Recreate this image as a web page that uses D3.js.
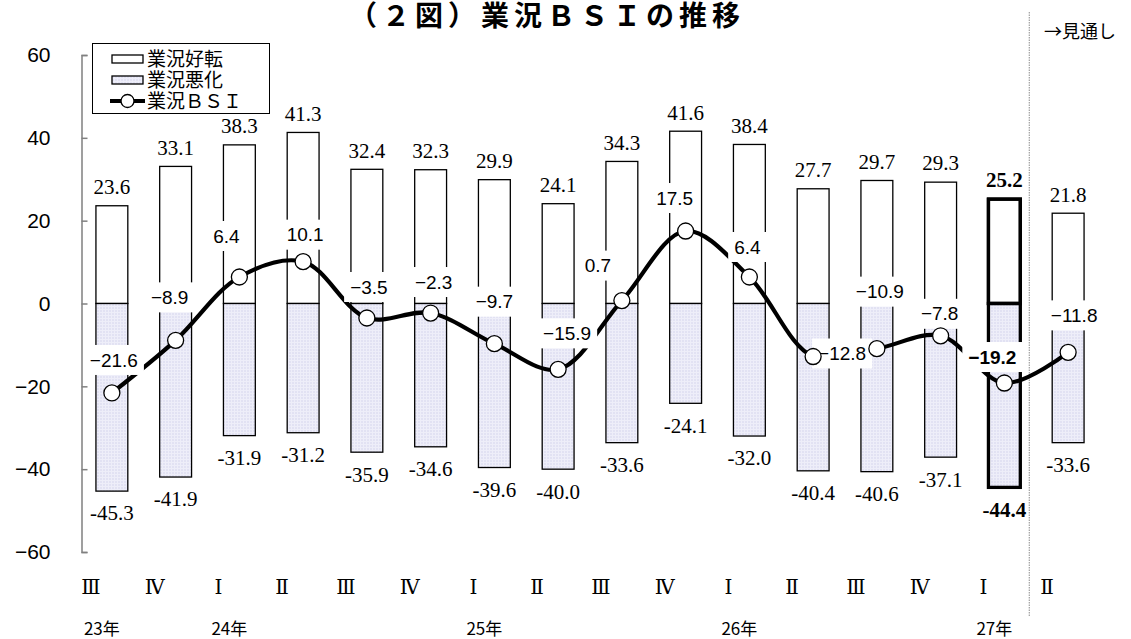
<!DOCTYPE html>
<html>
<head>
<meta charset="utf-8">
<script src="https://cdn.jsdelivr.net/npm/d3@7"></script>
<style>
  body { margin: 0; background: #fff; }
  svg { display: block; }
</style>
</head>
<body>
<svg id="chart" width="1131" height="639"></svg>
<script>
// ---- data ----
const quarters = ["Ⅲ", "Ⅳ", "Ⅰ", "Ⅱ", "Ⅲ", "Ⅳ", "Ⅰ", "Ⅱ", "Ⅲ", "Ⅳ", "Ⅰ", "Ⅱ", "Ⅲ", "Ⅳ", "Ⅰ", "Ⅱ"];
const yearLabels = ["23年", "24年", "25年", "26年", "27年"];
const yearStartIndex = [0, 2, 6, 10, 14];
const improved = [23.6, 33.1, 38.3, 41.3, 32.4, 32.3, 29.9, 24.1, 34.3, 41.6, 38.4, 27.7, 29.7, 29.3, 25.2, 21.8];
const worsened = [-45.3, -41.9, -31.9, -31.2, -35.9, -34.6, -39.6, -40.0, -33.6, -24.1, -32.0, -40.4, -40.6, -37.1, -44.4, -33.6];
const bsi = [-21.6, -8.9, 6.4, 10.1, -3.5, -2.3, -9.7, -15.9, 0.7, 17.5, 6.4, -12.8, -10.9, -7.8, -19.2, -11.8];
const yTicks = [-60, -40, -20, 0, 20, 40, 60];
const legendLabels = ["業況好転", "業況悪化", "業況ＢＳＩ"];
const titleText = "（２図）業況ＢＳＩの推移";
const outlookText = "→見通し";
const latestIndex = 14;   // latest actual quarter, drawn in bold
const outlookIndex = 15;  // forecast quarter, right of the divider

// ---- layout ----
const plot = { left: 80, right: 1100, top: 55, bottom: 552 };
// BSI label placement relative to its point [dx, dy]
const bsiLabelShift = [
  [2, -33], [-6, -43], [-13, -41], [2, -27], [2, -31], [3, -31], [0, -42], [9, -36],
  [-24, -35], [-11, -33], [-2, -30], [29, -3], [3, -57], [-1, -22], [-12, -26], [6, -37]
];

const sans = "'Liberation Sans', Arial, sans-serif";
const serif = "'Liberation Serif', 'Times New Roman', serif";
const cjk = "'Noto Sans CJK JP', sans-serif";

const svg = d3.select("#chart");

// lavender fill with a fine light grid
const defs = svg.append("defs");
const pat = defs.append("pattern").attr("id", "worsePattern")
  .attr("patternUnits", "userSpaceOnUse").attr("width", 3).attr("height", 3);
pat.append("rect").attr("width", 3).attr("height", 3).attr("fill", "#e2e2f3");
pat.append("rect").attr("width", 3).attr("height", 1).attr("fill", "#eeeef9");
pat.append("rect").attr("width", 1).attr("height", 3).attr("fill", "#eeeef9");

const idx = d3.range(quarters.length);
const x = d3.scaleBand().domain(idx).range([plot.left, plot.right])
  .paddingInner(0.5).paddingOuter(0.25);
const y = d3.scaleLinear().domain([-60, 60]).range([plot.bottom, plot.top]);
const cx = i => x(i) + x.bandwidth() / 2;

// title
svg.append("text")
  .attr("x", 547).attr("y", 26)
  .attr("text-anchor", "middle")
  .attr("font-family", cjk).attr("font-weight", "bold")
  .attr("font-size", 28).attr("letter-spacing", 5)
  .text(titleText);

// forecast divider
const dividerX = (x(latestIndex) + x.bandwidth() + x(outlookIndex)) / 2 - 7;
svg.append("line")
  .attr("x1", dividerX).attr("x2", dividerX)
  .attr("y1", 12).attr("y2", 616)
  .attr("stroke", "#8a8a8a").attr("stroke-width", 1)
  .attr("stroke-dasharray", "1.5,1");
svg.append("text")
  .attr("x", 1044).attr("y", 38)
  .attr("font-family", cjk).attr("font-size", 18)
  .text(outlookText);

// y axis
const yAxis = d3.axisLeft(y).tickValues(yTicks)
  .tickSizeInner(-6).tickSizeOuter(-6).tickPadding(31)
  .tickFormat(d3.format("d"));
const gy = svg.append("g").attr("transform", `translate(${plot.left + 1.5},0)`).call(yAxis);
gy.select(".domain").attr("stroke", "#808080").attr("stroke-width", 1.5);
gy.selectAll(".tick line").attr("stroke", "#808080").attr("stroke-width", 1.5);
gy.selectAll(".tick text").attr("font-family", sans).attr("font-size", 21).attr("fill", "#000");

// bars
const bars = svg.append("g");
bars.selectAll("rect.improved").data(idx).join("rect")
  .attr("class", "improved")
  .attr("x", i => x(i)).attr("width", x.bandwidth())
  .attr("y", i => y(improved[i])).attr("height", i => y(0) - y(improved[i]))
  .attr("fill", "#fff").attr("stroke", "#000")
  .attr("stroke-width", i => i === latestIndex ? 3.3 : 1.3);
bars.selectAll("rect.worsened").data(idx).join("rect")
  .attr("class", "worsened")
  .attr("x", i => x(i)).attr("width", x.bandwidth())
  .attr("y", y(0)).attr("height", i => y(worsened[i]) - y(0))
  .attr("fill", "url(#worsePattern)").attr("stroke", "#000")
  .attr("stroke-width", i => i === latestIndex ? 3.3 : 1.3);
// redraw the bold bar's upper outline on top of its lower half
bars.append("rect")
  .attr("x", x(latestIndex)).attr("width", x.bandwidth())
  .attr("y", y(improved[latestIndex])).attr("height", y(0) - y(improved[latestIndex]))
  .attr("fill", "none").attr("stroke", "#000").attr("stroke-width", 3.3);

// bar value labels
const fmt1 = d3.format(".1f");
svg.append("g").selectAll("text").data(idx).join("text")
  .attr("x", i => cx(i)).attr("y", i => y(improved[i]) - 19)
  .attr("dy", "0.35em").attr("text-anchor", "middle")
  .attr("font-family", serif).attr("font-size", 21)
  .attr("font-weight", i => i === latestIndex ? "bold" : "normal")
  .text(i => fmt1(improved[i]));
svg.append("g").selectAll("text").data(idx).join("text")
  .attr("x", i => cx(i)).attr("y", i => y(worsened[i]) + 22)
  .attr("dy", "0.35em").attr("text-anchor", "middle")
  .attr("font-family", serif).attr("font-size", 21)
  .attr("font-weight", i => i === latestIndex ? "bold" : "normal")
  .text(i => fmt1(worsened[i]).replace("−", "-"));

// BSI line
const line = d3.line().x(i => cx(i)).y(i => y(bsi[i])).curve(d3.curveCatmullRom.alpha(0.5));
svg.append("path").datum(idx)
  .attr("d", line).attr("fill", "none")
  .attr("stroke", "#000").attr("stroke-width", 4.2)
  .attr("stroke-linejoin", "round");

// BSI labels with white boxes
const lab = svg.append("g").selectAll("g").data(idx).join("g")
  .attr("transform", i => `translate(${cx(i) + bsiLabelShift[i][0]},${y(bsi[i]) + bsiLabelShift[i][1]})`);
lab.append("rect");
lab.append("text")
  .attr("text-anchor", "middle").attr("dy", "0.35em")
  .attr("font-family", sans).attr("font-size", 19)
  .attr("font-weight", i => i === latestIndex ? "bold" : "normal")
  .text(i => fmt1(bsi[i]));
lab.each(function () {
  const g = d3.select(this);
  const b = g.select("text").node().getBBox();
  g.select("rect")
    .attr("x", b.x - 6).attr("y", -15)
    .attr("width", b.width + 12).attr("height", 30)
    .attr("fill", "#fff");
});

// markers
svg.append("g").selectAll("circle").data(idx).join("circle")
  .attr("cx", i => cx(i)).attr("cy", i => y(bsi[i])).attr("r", 8)
  .attr("fill", "#fff").attr("stroke", "#000").attr("stroke-width", 1.3);

// quarter and year labels
svg.append("g").selectAll("text").data(idx).join("text")
  .attr("x", i => cx(i) - 21).attr("y", 587)
  .attr("dy", "0.35em").attr("text-anchor", "middle")
  .attr("font-family", "'DejaVu Serif', serif").attr("font-size", 20)
  .text(i => quarters[i]);
svg.append("g").selectAll("text").data(yearLabels).join("text")
  .attr("x", (d, k) => cx(yearStartIndex[k]) - 10).attr("y", 629)
  .attr("dy", "0.35em").attr("text-anchor", "middle")
  .attr("font-family", cjk).attr("font-size", 17)
  .text(d => d);

// legend
const lg = svg.append("g");
lg.append("rect").attr("x", 92.5).attr("y", 43.5).attr("width", 177).attr("height", 70)
  .attr("fill", "#fff").attr("stroke", "#000").attr("stroke-width", 1);
const rowY = [59, 80, 101];
lg.append("rect").attr("x", 112).attr("y", rowY[0] - 4).attr("width", 31).attr("height", 8)
  .attr("fill", "#fff").attr("stroke", "#000").attr("stroke-width", 1.3);
lg.append("rect").attr("x", 112).attr("y", rowY[1] - 4).attr("width", 31).attr("height", 8)
  .attr("fill", "url(#worsePattern)").attr("stroke", "#000").attr("stroke-width", 1.3);
lg.append("line").attr("x1", 110).attr("x2", 145).attr("y1", rowY[2]).attr("y2", rowY[2])
  .attr("stroke", "#000").attr("stroke-width", 4.2);
lg.append("circle").attr("cx", 127.5).attr("cy", rowY[2]).attr("r", 6.5)
  .attr("fill", "#fff").attr("stroke", "#000").attr("stroke-width", 1.3);
lg.selectAll("text.leg").data(legendLabels).join("text")
  .attr("class", "leg")
  .attr("x", 147).attr("y", (d, k) => rowY[k]).attr("dy", "0.36em")
  .attr("font-family", cjk).attr("font-size", 19)
  .text(d => d);
</script>
</body>
</html>
